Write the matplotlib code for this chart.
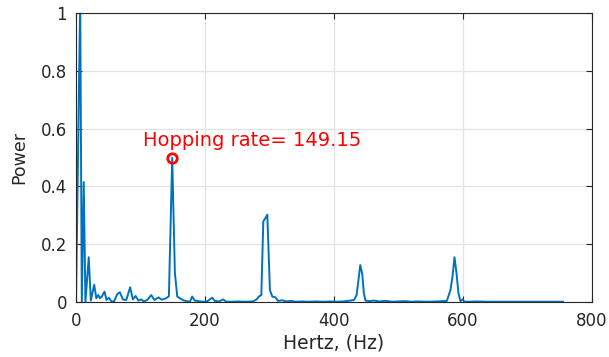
import numpy as np
import matplotlib
matplotlib.use('Agg')
import matplotlib.pyplot as plt

plt.rcParams['font.family'] = ['DejaVu Sans']

# spectrum (Hz, normalised power)
freq_hz = [0, 6.5, 9.0, 12.0, 14.6, 19.7, 23.0, 28.2, 31.5, 34.5, 37.2, 40.3, 44.2,
           47.3, 50.9, 54.6, 58.7, 63.9, 68.0, 72.6, 77.9, 84.0, 88.1, 92.3, 96.9,
           101.1, 105.1, 110.4, 116.6, 121.7, 127.9, 133.0, 139.8, 144.0, 149.15,
           153.3, 157.0, 161.2, 166.4, 171.6, 176.7, 180.1, 184.0, 188.0, 192.0,
           198.1, 204.0, 211.2, 215.2, 222.0, 228.1, 233.0, 240.0, 250.0, 262.0,
           274.0, 280.0, 283.6, 287.3, 290.4, 293.5, 296.6, 300.6, 304.3, 309.4,
           313.0, 319.8, 326.0, 333.0, 340.0, 350.0, 360.0, 372.0, 384.0, 395.0,
           405.0, 415.0, 425.0, 431.0, 435.0, 437.6, 440.7, 443.8, 446.3, 448.8,
           455.0, 462.0, 470.0, 480.0, 490.0, 500.0, 510.0, 520.0, 530.0, 545.0,
           560.0, 575.0, 580.6, 583.7, 586.8, 589.9, 593.0, 596.1, 599.2, 602.3,
           610.0, 620.0, 640.0, 660.0, 680.0, 700.0, 720.0, 740.0, 755.0]
power = [0.0, 1.05, 0.0, 0.415, 0.0, 0.155, 0.005, 0.06, 0.013, 0.024, 0.013, 0.02,
         0.036, 0.007, 0.015, 0.003, 0.001, 0.027, 0.034, 0.009, 0.007, 0.051,
         0.009, 0.021, 0.005, 0.009, 0.002, 0.007, 0.024, 0.007, 0.016, 0.008,
         0.013, 0.02, 0.499, 0.1, 0.019, 0.013, 0.006, 0.003, 0.001, 0.019, 0.005,
         0.004, 0.002, 0.001, 0.003, 0.015, 0.004, 0.002, 0.009, 0.001, 0.001,
         0.002, 0.001, 0.002, 0.009, 0.019, 0.024, 0.279, 0.29, 0.302, 0.042,
         0.019, 0.016, 0.004, 0.006, 0.002, 0.004, 0.001, 0.002, 0.001, 0.002,
         0.001, 0.002, 0.001, 0.002, 0.005, 0.007, 0.024, 0.07, 0.128, 0.097,
         0.03, 0.005, 0.003, 0.005, 0.002, 0.004, 0.001, 0.002, 0.003, 0.001,
         0.002, 0.001, 0.002, 0.004, 0.042, 0.088, 0.155, 0.1, 0.03, 0.003, 0.009,
         0.001, 0.001, 0.002, 0.001, 0.001, 0.001, 0.001, 0.001, 0.001, 0.001]

hop_rate = 149.15
hop_power = 0.499
xticks = [0, 200, 400, 600, 800]
yticks = [0, 0.2, 0.4, 0.6, 0.8, 1]
ytick_labels = ['0', '0.2', '0.4', '0.6', '0.8', '1']

axcol = '#262626'
fig = plt.figure(figsize=(6.09, 3.57), dpi=100)
ax = fig.add_axes([0.1248, 0.154, 0.8473, 0.8095])

ax.plot(freq_hz, power, color='#0072BD', lw=1.4)
ax.plot(hop_rate, hop_power, 'o', ms=6.8, mfc='none', mec='red', mew=2.0)
ax.text(104.6, 0.539, 'Hopping rate= %.2f' % hop_rate, color='red', fontsize=14,
        ha='left', va='baseline')

ax.set_xlim(0, 800)
ax.set_ylim(0, 1)
ax.set_xticks(xticks)
ax.set_yticks(yticks)
ax.set_yticklabels(ytick_labels)
ax.grid(True, color='#e3e3e3', lw=0.9)
ax.set_axisbelow(True)
ax.tick_params(direction='in', length=4, top=True, right=True, colors=axcol,
               labelsize=12, width=0.8)
ax.tick_params(axis='x', pad=7)
ax.tick_params(axis='y', pad=6.5)
for s in ax.spines.values():
    s.set_color(axcol)
    s.set_linewidth(0.8)
ax.set_xlabel('Hertz, (Hz)', fontsize=13.5, color=axcol, labelpad=2.5)
ax.set_ylabel('Power', fontsize=12.5, color=axcol, labelpad=9)

fig.savefig('out.png', dpi=100)
